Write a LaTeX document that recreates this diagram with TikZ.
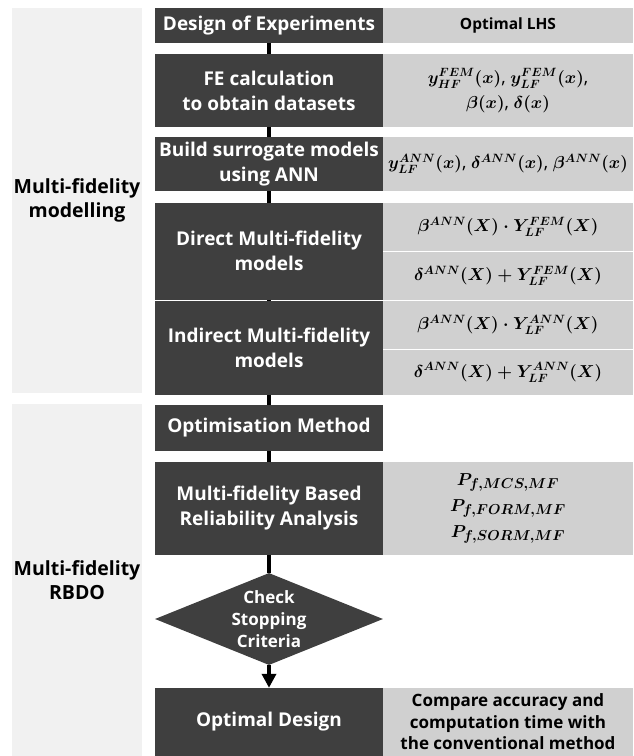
\documentclass[tikz,border=0pt]{standalone}
\usepackage[no-math]{fontspec}
\setmainfont{Open Sans}
\usepackage{amsmath}
\usetikzlibrary{shapes.geometric,arrows.meta}
\definecolor{dk}{HTML}{3F3F3F}
\definecolor{lg}{HTML}{D0D0D0}
\definecolor{pn}{HTML}{F1F1F1}
\tikzset{
  darkbox/.style={fill=dk, text=white, font=\bfseries\fontsize{19}{25}\selectfont,
    minimum width=228pt, inner sep=0pt, align=center},
  graybox/.style={fill=lg, text=black, font=\boldmath\fontsize{18}{25}\selectfont,
    minimum width=250pt, inner sep=0pt, align=center},
  panel/.style={fill=pn, text=black, font=\bfseries\fontsize{19.5}{24}\selectfont,
    minimum width=130pt, inner sep=0pt, align=center},
  conn/.style={line width=4pt, black},
}
\begin{document}
\begin{tikzpicture}[x=1pt,y=-1pt]
\useasboundingbox (0,0) rectangle (633,756);
% side panels
\node[panel, minimum height=385pt] (pmod) at (77,200.5) {Multi-fidelity\\modelling};
\node[panel, minimum height=352pt] (prbdo) at (77,580) {Multi-fidelity\\RBDO};
% dark boxes
\node[darkbox, minimum height=35pt] (doe) at (269,25.5) {Design of Experiments};
\node[darkbox, minimum height=73pt] (fe) at (269,90.5) {FE calculation\\to obtain datasets};
\node[darkbox, minimum height=54pt] (ann) at (269,164) {Build surrogate models\\using ANN};
\node[darkbox, minimum height=96.5pt] (direct) at (269,251.25) {Direct Multi-fidelity\\models};
\node[darkbox, minimum height=94.5pt] (indirect) at (269,347.75) {Indirect Multi-fidelity\\models};
\node[darkbox, minimum height=46pt] (optm) at (269,428) {Optimisation Method};
\node[darkbox, minimum height=93pt] (mfra) at (269,508.5) {Multi-fidelity Based\\Reliability Analysis};
\node[diamond, fill=dk, minimum width=228pt, minimum height=92pt, inner sep=0pt] (check) at (269,619) {};
\node[text=white, font=\bfseries\fontsize{17}{22}\selectfont, align=center] (checkt) at (check.center) {Check\\Stopping\\Criteria};
\node[darkbox, minimum height=68pt] (optd) at (269,722) {Optimal Design};
% gray boxes
\node[graybox, minimum height=35pt, font=\bfseries\fontsize{15.5}{18}\selectfont] (lhs) at (508,25.5) {Optimal LHS};
\node[graybox, minimum height=73pt] (data) at (508,90.5) {$y^{FEM}_{HF}(x)$, $y^{FEM}_{LF}(x)$,\\$\beta(x)$, $\delta(x)$};
\node[graybox, minimum height=54pt] (sur) at (508,164) {$y^{ANN}_{LF}(x)$, $\delta^{ANN}(x)$, $\beta^{ANN}(x)$};
\node[graybox, minimum height=48pt] (d1) at (508,227) {$\beta^{ANN}(X)\cdot Y^{FEM}_{LF}(X)$};
\node[graybox, minimum height=47.5pt] (d2) at (508,275.75) {$\delta^{ANN}(X)+Y^{FEM}_{LF}(X)$};
\node[graybox, minimum height=48.5pt] (i1) at (508,324.75) {$\beta^{ANN}(X)\cdot Y^{ANN}_{LF}(X)$};
\node[graybox, minimum height=45pt] (i2) at (508,372.5) {$\delta^{ANN}(X)+Y^{ANN}_{LF}(X)$};
\node[graybox, minimum height=93pt, font=\boldmath\fontsize{19}{26}\selectfont] (pf) at (508,508.5) {$P_{f,MCS,MF}$\\$P_{f,FORM,MF}$\\$P_{f,SORM,MF}$};
\node[graybox, minimum height=68pt, font=\bfseries\fontsize{17}{21.5}\selectfont] (cmp) at (508,722) {Compare accuracy and\\computation time with\\the conventional method};
% connectors
\draw[conn] (doe) -- (fe);
\draw[conn] (fe) -- (ann);
\draw[conn] (ann) -- (direct);
\draw[conn] (direct) -- (indirect);
\draw[conn] (indirect) -- (optm);
\draw[conn] (optm) -- (mfra);
\draw[conn] (mfra) -- (check);
\draw[conn, -{Triangle[width=14pt,length=14pt]}] (check) -- (optd);
\end{tikzpicture}
\end{document}
